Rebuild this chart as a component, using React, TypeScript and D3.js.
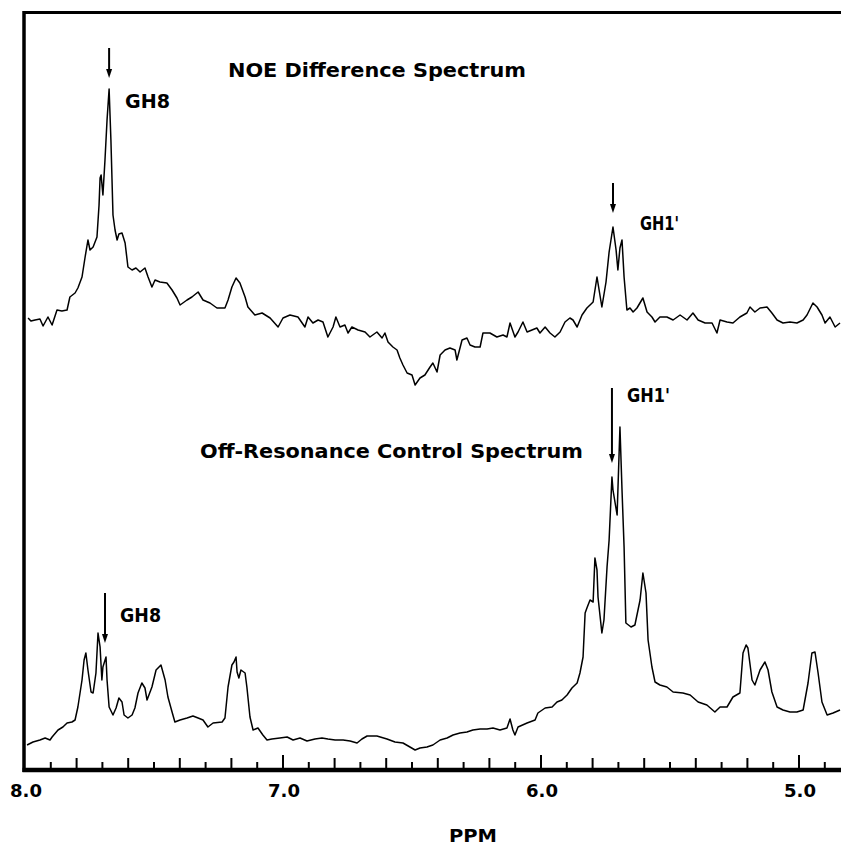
import { useEffect, useRef } from 'react';
import * as d3 from 'd3';

const WIDTH = 841;
const HEIGHT = 847;

// NOE difference spectrum, [ppm, intensity]
const NOE_SPECTRUM: [number, number][] = [
  [7.988, 12], [7.977, 9], [7.961, 10], [7.942, 11], [7.930, 4], [7.911, 13], [7.895, 5],
  [7.876, 20], [7.857, 19], [7.837, 20], [7.826, 33], [7.806, 37], [7.795, 42], [7.779, 53],
  [7.767, 73], [7.756, 90], [7.748, 80], [7.736, 83], [7.721, 93], [7.713, 125], [7.709, 152],
  [7.705, 155], [7.698, 135], [7.690, 170], [7.682, 210], [7.674, 241], [7.667, 190], [7.659, 115],
  [7.651, 100], [7.643, 90], [7.636, 96], [7.624, 97], [7.612, 87], [7.601, 63], [7.585, 60],
  [7.570, 62], [7.554, 58], [7.535, 62], [7.523, 53], [7.508, 43], [7.496, 50], [7.477, 48],
  [7.450, 47], [7.430, 40], [7.411, 32], [7.399, 25], [7.372, 30], [7.353, 33], [7.329, 38],
  [7.310, 30], [7.283, 27], [7.256, 22], [7.225, 22], [7.213, 30], [7.198, 43], [7.182, 52],
  [7.167, 47], [7.147, 33], [7.136, 23], [7.109, 15], [7.081, 17], [7.050, 12], [7.019, 3],
  [7.000, 12], [6.973, 15], [6.942, 13], [6.915, 3], [6.903, 13], [6.884, 7], [6.864, 10],
  [6.845, 8], [6.826, -7], [6.806, 3], [6.795, 13], [6.779, 3], [6.760, 5], [6.748, -3],
  [6.733, 3], [6.709, 0], [6.682, -2], [6.663, -7], [6.636, -2], [6.616, -8], [6.605, -3],
  [6.593, -12], [6.574, -17], [6.558, -20], [6.547, -28], [6.535, -35], [6.519, -43], [6.500, -45],
  [6.488, -55], [6.469, -48], [6.450, -45], [6.430, -37], [6.419, -33], [6.403, -42], [6.391, -25],
  [6.372, -20], [6.353, -18], [6.333, -20], [6.326, -30], [6.306, -10], [6.287, -8], [6.275, -15],
  [6.256, -17], [6.236, -17], [6.225, -3], [6.198, -3], [6.171, -7], [6.147, -5], [6.132, -7],
  [6.120, 7], [6.101, -7], [6.089, -2], [6.070, 8], [6.054, -2], [6.035, 0], [6.016, 2],
  [6.004, -3], [5.984, 3], [5.965, -3], [5.946, -7], [5.926, -2], [5.907, 8], [5.888, 12],
  [5.876, 10], [5.860, 3], [5.841, 15], [5.822, 22], [5.798, 28], [5.783, 53], [5.764, 23],
  [5.748, 48], [5.736, 78], [5.721, 103], [5.709, 80], [5.702, 60], [5.694, 82], [5.686, 90],
  [5.678, 53], [5.667, 20], [5.655, 22], [5.643, 18], [5.628, 22], [5.605, 32], [5.589, 18],
  [5.570, 13], [5.558, 8], [5.539, 13], [5.512, 13], [5.488, 10], [5.461, 15], [5.434, 10],
  [5.411, 17], [5.391, 10], [5.364, 7], [5.337, 7], [5.318, -3], [5.306, 10], [5.279, 8],
  [5.256, 7], [5.229, 13], [5.202, 17], [5.190, 23], [5.171, 18], [5.151, 22], [5.124, 23],
  [5.105, 17], [5.085, 10], [5.062, 7], [5.035, 8], [5.008, 7], [4.984, 10], [4.969, 15],
  [4.946, 27], [4.930, 23], [4.911, 15], [4.899, 7], [4.880, 13], [4.860, 3], [4.841, 7],
];

// off-resonance control spectrum, [ppm, intensity]
const CONTROL_SPECTRUM: [number, number][] = [
  [7.992, 15], [7.969, 18], [7.942, 20], [7.922, 22], [7.903, 20], [7.895, 23], [7.872, 30],
  [7.853, 33], [7.837, 37], [7.818, 38], [7.806, 40], [7.795, 53], [7.779, 80], [7.771, 100],
  [7.764, 107], [7.756, 90], [7.744, 68], [7.736, 67], [7.725, 87], [7.717, 127], [7.709, 113],
  [7.702, 80], [7.698, 93], [7.686, 103], [7.682, 80], [7.674, 53], [7.659, 45], [7.647, 52],
  [7.636, 62], [7.624, 58], [7.616, 45], [7.601, 42], [7.585, 45], [7.574, 52], [7.562, 67],
  [7.547, 77], [7.535, 72], [7.527, 60], [7.508, 73], [7.492, 90], [7.473, 95], [7.457, 80],
  [7.446, 63], [7.430, 48], [7.419, 38], [7.399, 40], [7.372, 42], [7.349, 44], [7.329, 42],
  [7.310, 40], [7.291, 33], [7.271, 37], [7.236, 38], [7.225, 42], [7.213, 73], [7.198, 95],
  [7.190, 98], [7.182, 103], [7.178, 88], [7.171, 82], [7.163, 90], [7.147, 87], [7.140, 73],
  [7.128, 43], [7.116, 30], [7.097, 32], [7.078, 25], [7.062, 20], [7.043, 21], [7.012, 22],
  [6.984, 23], [6.961, 20], [6.934, 22], [6.907, 19], [6.876, 21], [6.849, 22], [6.826, 21],
  [6.798, 20], [6.767, 20], [6.740, 19], [6.713, 17], [6.694, 21], [6.674, 24], [6.636, 24],
  [6.597, 21], [6.566, 18], [6.535, 17], [6.508, 13], [6.488, 10], [6.469, 12], [6.442, 13],
  [6.419, 15], [6.391, 20], [6.364, 22], [6.341, 25], [6.314, 27], [6.287, 28], [6.264, 30],
  [6.236, 31], [6.209, 31], [6.186, 32], [6.159, 30], [6.132, 32], [6.120, 41], [6.109, 30],
  [6.101, 25], [6.089, 33], [6.054, 37], [6.023, 40], [6.012, 47], [5.984, 52], [5.957, 53],
  [5.938, 58], [5.919, 60], [5.899, 65], [5.880, 72], [5.860, 77], [5.849, 87], [5.837, 103],
  [5.829, 147], [5.822, 152], [5.810, 160], [5.798, 158], [5.791, 202], [5.783, 190], [5.779, 163],
  [5.764, 127], [5.756, 140], [5.744, 193], [5.736, 220], [5.725, 283], [5.721, 270], [5.705, 245],
  [5.694, 333], [5.686, 270], [5.678, 213], [5.671, 137], [5.651, 133], [5.636, 135], [5.616, 160],
  [5.605, 187], [5.593, 167], [5.585, 120], [5.570, 93], [5.558, 78], [5.539, 75], [5.512, 73],
  [5.488, 68], [5.450, 67], [5.422, 65], [5.391, 58], [5.357, 55], [5.326, 48], [5.306, 53],
  [5.279, 53], [5.256, 63], [5.229, 67], [5.217, 107], [5.205, 115], [5.198, 112], [5.182, 80],
  [5.171, 75], [5.151, 90], [5.132, 98], [5.120, 90], [5.105, 68], [5.085, 53], [5.062, 50],
  [5.035, 48], [5.008, 48], [4.984, 50], [4.965, 77], [4.950, 107], [4.938, 108], [4.926, 87],
  [4.911, 58], [4.891, 45], [4.868, 47], [4.841, 50],
];

const TICK_LABELS = ['8.0', '7.0', '6.0', '5.0'];
const AXIS_TITLE = 'PPM';
const NOE_TITLE = 'NOE Difference Spectrum';
const CONTROL_TITLE = 'Off-Resonance Control Spectrum';

// peak markers: where the arrow points, label
const NOE_PEAKS = [
  { ppm: 7.674, label: 'GH8' },
  { ppm: 5.721, label: "GH1'" },
];
const CONTROL_PEAKS = [
  { ppm: 7.690, label: 'GH8' },
  { ppm: 5.725, label: "GH1'" },
];

const FONT = '"DejaVu Sans", "Liberation Sans", Arial, sans-serif';

export default function App() {
  const svgRef = useRef<SVGSVGElement | null>(null);

  useEffect(() => {
    if (!svgRef.current) return;
    const svg = d3.select(svgRef.current);
    svg.selectAll('*').remove();

    const x = d3.scaleLinear().domain([8.0, 5.0]).range([25, 799]);
    const yNoe = d3.scaleLinear().domain([0, 240]).range([330, 90]);
    const yCtl = d3.scaleLinear().domain([0, 340]).range([760, 420]);

    const axisY = 770;
    const frameLeft = 24;

    // frame: top rule, left rule, bottom axis line
    svg.append('line')
      .attr('x1', frameLeft - 1).attr('x2', WIDTH).attr('y1', 12.5).attr('y2', 12.5)
      .attr('stroke', '#000').attr('stroke-width', 3);
    svg.append('line')
      .attr('x1', frameLeft).attr('x2', frameLeft).attr('y1', 11).attr('y2', axisY + 2)
      .attr('stroke', '#000').attr('stroke-width', 3.5);
    svg.append('line')
      .attr('x1', frameLeft - 1.5).attr('x2', WIDTH).attr('y1', axisY).attr('y2', axisY)
      .attr('stroke', '#000').attr('stroke-width', 4.5);

    // ticks every 0.1 ppm, pointing up into the plot
    const ticks = d3.range(79, 48, -1).map(d => d / 10);
    svg.append('g').selectAll('line').data(ticks).join('line')
      .attr('x1', d => x(d)).attr('x2', d => x(d))
      .attr('y1', axisY)
      .attr('y2', d => {
        const k = Math.round(d * 10);
        if (k % 10 === 0) return axisY - 15;
        if (k % 2 === 0) return axisY - 12;
        return axisY - 8;
      })
      .attr('stroke', '#000').attr('stroke-width', 2);

    svg.append('g').selectAll('text').data(TICK_LABELS).join('text')
      .attr('x', d => x(+d) + 1).attr('y', 797)
      .attr('text-anchor', 'middle')
      .attr('textLength', 32).attr('lengthAdjust', 'spacingAndGlyphs')
      .style('font-family', FONT).style('font-weight', 'bold').style('font-size', '18px')
      .text(d => d);

    svg.append('text')
      .attr('x', 473).attr('y', 842)
      .attr('text-anchor', 'middle')
      .attr('textLength', 48).attr('lengthAdjust', 'spacingAndGlyphs')
      .style('font-family', FONT).style('font-weight', 'bold').style('font-size', '18px')
      .text(AXIS_TITLE);

    // spectra
    const lineNoe = d3.line<[number, number]>().x(d => x(d[0])).y(d => yNoe(d[1]));
    const lineCtl = d3.line<[number, number]>().x(d => x(d[0])).y(d => yCtl(d[1]));

    svg.append('path').datum(NOE_SPECTRUM)
      .attr('d', lineNoe)
      .attr('fill', 'none').attr('stroke', '#000').attr('stroke-width', 1.5)
      .attr('stroke-linejoin', 'round');
    svg.append('path').datum(CONTROL_SPECTRUM)
      .attr('d', lineCtl)
      .attr('fill', 'none').attr('stroke', '#000').attr('stroke-width', 1.5)
      .attr('stroke-linejoin', 'round');

    const label = (txt: string, lx: number, ly: number, len: number, size = 20) =>
      svg.append('text')
        .attr('x', lx).attr('y', ly)
        .attr('textLength', len).attr('lengthAdjust', 'spacingAndGlyphs')
        .style('font-family', FONT).style('font-weight', 'bold').style('font-size', `${size}px`)
        .text(txt);

    label(NOE_TITLE, 228, 77, 298);
    label(CONTROL_TITLE, 200, 458, 383);

    // arrows pointing down at peaks
    const arrow = (ax: number, top: number, tip: number) => {
      svg.append('line')
        .attr('x1', ax).attr('x2', ax).attr('y1', top).attr('y2', tip - 6)
        .attr('stroke', '#000').attr('stroke-width', 2);
      svg.append('path')
        .attr('d', `M${ax - 3},${tip - 9}L${ax + 3},${tip - 9}L${ax},${tip}Z`)
        .attr('fill', '#000');
    };

    // layout for each marker: arrow top / tip, label position and width
    const noeLayout = [
      { top: 48, tip: 78, lx: 125, ly: 108, len: 45 },
      { top: 183, tip: 213, lx: 640, ly: 230, len: 39 },
    ];
    const ctlLayout = [
      { top: 593, tip: 643, lx: 120, ly: 622, len: 41 },
      { top: 388, tip: 463, lx: 627, ly: 402, len: 43 },
    ];

    NOE_PEAKS.forEach((p, i) => {
      const l = noeLayout[i];
      arrow(x(p.ppm), l.top, l.tip);
      label(p.label, l.lx, l.ly, l.len, 19);
    });
    CONTROL_PEAKS.forEach((p, i) => {
      const l = ctlLayout[i];
      arrow(x(p.ppm), l.top, l.tip);
      label(p.label, l.lx, l.ly, l.len, 19);
    });
  }, []);

  return (
    <svg ref={svgRef} width={WIDTH} height={HEIGHT}
      style={{ position: 'absolute', left: 0, top: 0, background: '#fff' }} />
  );
}
